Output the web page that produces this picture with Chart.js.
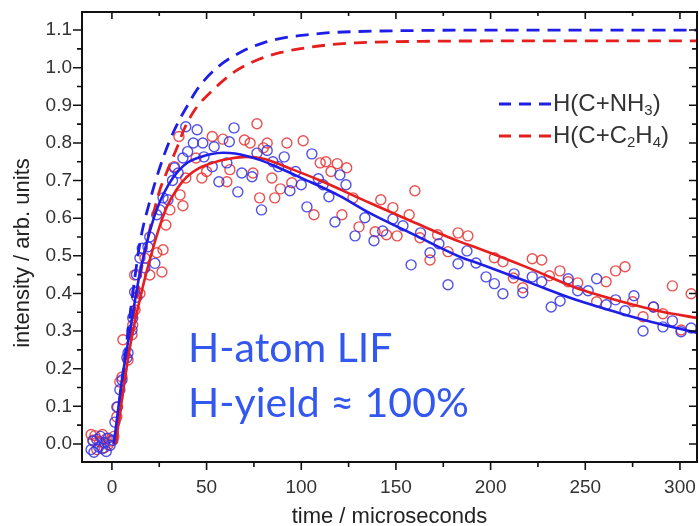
<!DOCTYPE html>
<html>
<head>
<meta charset="utf-8">
<script src="https://cdn.jsdelivr.net/npm/chart.js@4/dist/chart.umd.min.js"></script>
<style>
  html, body { margin: 0; padding: 0; background: #fff; }
  #wrap { width: 699px; height: 526px; }
</style>
</head>
<body>
<div id="wrap"><canvas id="c" width="699" height="526"></canvas></div>
<script>
// Axis ticks
const xMajorTicks = [0, 50, 100, 150, 200, 250, 300];
const xMinorTicks = [25, 75, 125, 175, 225, 275];
const yMajorTicks = [0.0, 0.1, 0.2, 0.3, 0.4, 0.5, 0.6, 0.7, 0.8, 0.9, 1.0, 1.1];
const yMinorTicks = [0.05, 0.15, 0.25, 0.35, 0.45, 0.55, 0.65, 0.75, 0.85, 0.95, 1.05];

// Measured LIF signal, [time (µs), intensity]
const nh3Points = [
  [-11,-0.015],[-10,0.008],[-9.5,-0.022],[-8,0.012],[-7,-0.008],[-6,0.02],[-5,-0.012],[-4,0.004],
  [-3,-0.02],[-2,0.015],[-1,-0.004],[0.5,0.01],
  [1.6,0.058],[2.6,0.098],[4.2,0.144],[5.3,0.17],[7.9,0.229],[8.5,0.242],[10.6,0.303],[11,0.335],
  [12,0.404],[13,0.45],[13.2,0.39],[14.8,0.494],[16,0.52],[17.4,0.468],[19,0.524],[20,0.55],
  [22.7,0.48],[23.7,0.609],[25.4,0.622],[27,0.654],[29.6,0.649],[32,0.70],[33,0.734],[35,0.72],
  [37.5,0.76],[39,0.843],[40,0.777],[43,0.80],[45,0.835],[48,0.80],[48.6,0.763],[53,0.737],
  [54,0.79],[56.5,0.697],[60.7,0.747],[62,0.803],[64.5,0.84],[66.5,0.67],[68.6,0.72],[74,0.71],
  [76.6,0.773],[79,0.622],[82,0.78],[85,0.75],[88,0.737],[91,0.763],[94,0.673],[97,0.724],
  [100,0.689],[103,0.63],[105.6,0.771],[109,0.705],[111.5,0.689],[114.6,0.657],[117.8,0.59],
  [120.4,0.715],[123.6,0.689],[128.4,0.553],[133.6,0.601],[138.4,0.54],[143,0.566],[148.4,0.598],
  [153.7,0.58],[158,0.476],[163,0.561],[168,0.508],[172.7,0.532],[177.5,0.423],[182.8,0.479],
  [187.5,0.513],[192.3,0.481],[197.6,0.444],[202,0.426],[206.5,0.399],[212.4,0.452],[217,0.402],
  [222,0.444],[227,0.431],[232,0.364],[236.7,0.38],[241,0.439],[246,0.407],[251.5,0.407],
  [256,0.439],[261,0.37],[266,0.383],[271,0.354],[275.7,0.394],[280.5,0.30],[286,0.364],
  [291,0.311],[296,0.327],[300.6,0.298],[305.9,0.308]
];
const c2h4Points = [
  [-11,0.025],[-10,0.01],[-9,0.022],[-8,-0.015],[-6.5,0.006],[-5,0.025],[-4,-0.01],[-3,0.014],
  [-2,-0.002],[-0.5,0.008],[1,0.02],
  [2.6,0.072],[3,0.098],[4.2,0.165],[5.3,0.178],[5.8,0.277],[8.5,0.223],[10.6,0.29],[11,0.316],
  [12,0.449],[12.2,0.356],[13.2,0.404],[14.8,0.40],[17.4,0.494],[20,0.449],[23.7,0.508],
  [26.4,0.457],[27,0.516],[28.5,0.582],[30.6,0.622],[33,0.737],[35.4,0.817],[36,0.662],
  [37.5,0.633],[39,0.707],[44.4,0.76],[47.5,0.707],[50,0.724],[53,0.817],[58.6,0.81],
  [60.7,0.697],[62.3,0.729],[70,0.808],[73,0.80],[74.5,0.72],[76.6,0.851],[78,0.654],[80,0.787],
  [82,0.80],[84.5,0.707],[86,0.654],[89,0.678],[92.4,0.80],[95,0.694],[101,0.806],[106.7,0.609],
  [110,0.747],[113,0.75],[115.7,0.724],[119,0.745],[121.5,0.609],[124,0.734],[127.3,0.654],
  [130.5,0.577],[139,0.564],[142,0.649],[145,0.556],[148.4,0.628],[150.6,0.553],[157,0.609],
  [160,0.673],[162.7,0.548],[168,0.489],[172,0.556],[177.5,0.511],[182.8,0.561],[188,0.553],
  [202,0.495],[206.5,0.484],[212,0.441],[217,0.415],[222,0.492],[227,0.489],[231,0.447],
  [236.6,0.46],[241,0.431],[246,0.428],[256,0.378],[261,0.431],[266,0.46],[271,0.471],
  [275,0.378],[280.5,0.338],[286,0.364],[291,0.346],[296,0.42],[300.6,0.303],[305.9,0.399]
];

// Kinetic fits (solid)
const nh3Fit = [
  [1,0],[3,0.08],[5,0.16],[10,0.315],[15,0.46],[20,0.565],[25,0.64],[30,0.69],[35,0.725],
  [40,0.748],[46.5,0.762],[52,0.77],[58.6,0.774],[65,0.772],[78,0.755],[90,0.73],[100,0.707],
  [120,0.66],[136,0.614],[160,0.555],[184,0.497],[193,0.481],[220,0.43],[245,0.383],[270,0.345],
  [290,0.318],[309,0.295]
];
const c2h4Fit = [
  [2,0],[5,0.11],[10,0.27],[15,0.39],[20,0.489],[25,0.575],[29,0.63],[34,0.675],[39.6,0.71],
  [46,0.733],[53,0.747],[62,0.758],[71,0.763],[80,0.758],[95.6,0.729],[110,0.70],[136,0.641],
  [160,0.588],[184,0.537],[193,0.521],[220,0.468],[245,0.415],[270,0.377],[290,0.352],[309,0.335]
];

// H-atom production without loss (dashed)
const nh3Yield = [
  [1.5,0],[5,0.15],[10,0.36],[15,0.54],[20,0.645],[25,0.73],[30,0.80],[35,0.855],[40,0.90],
  [45.4,0.945],[55.5,1.0],[68.7,1.043],[80,1.066],[91.4,1.08],[104.6,1.088],[115,1.093],
  [129,1.096],[164,1.099],[200,1.1],[309,1.1]
];
const c2h4Yield = [
  [2,0],[5,0.11],[10,0.29],[15,0.45],[20,0.57],[25,0.67],[30,0.735],[35,0.795],[38,0.835],
  [43.8,0.888],[53.4,0.941],[65,0.99],[77,1.021],[88.7,1.04],[103,1.053],[115,1.061],
  [129,1.066],[163,1.07],[200,1.071],[309,1.071]
];

// Legend labels; "_{..}" marks a subscript
const legendLabels = ['H(C+NH_{3})', 'H(C+C_{2}H_{4})'];
const noteLines = ['H-atom LIF', 'H-yield \u2248 100%'];
const yTitle = 'intensity / arb. units';
const xTitle = 'time / microseconds';

const BLUE = '#1e1ee6';
const RED = '#e61e1e';
const SANS = '"Liberation Sans", Arial, sans-serif';
const toXY = arr => arr.map(([x, y]) => ({ x, y }));

function drawRich(ctx, text, x, y, size) {
  const parts = text.split(/(_\{[^}]*\})/).filter(Boolean);
  let cx = x;
  parts.forEach(p => {
    if (p.startsWith('_{')) {
      const s = p.slice(2, -1);
      ctx.font = Math.round(size * 0.62) + 'px ' + SANS;
      ctx.fillText(s, cx, y + size * 0.28);
      cx += ctx.measureText(s).width;
    } else {
      ctx.font = size + 'px ' + SANS;
      ctx.fillText(p, cx, y);
      cx += ctx.measureText(p).width;
    }
  });
}

// keep the plot box fixed: no extra room for overhanging tick labels
function fixBox(size, key) {
  return s => {
    s[key] = size;
    s.paddingLeft = 0; s.paddingRight = 0; s.paddingTop = 0; s.paddingBottom = 0;
  };
}

const decor = {
  id: 'decor',
  afterDatasetsDraw(chart) {
    const { ctx, chartArea: a, scales: { x, y } } = chart;
    ctx.save();
    // frame
    ctx.strokeStyle = '#111';
    ctx.lineWidth = 2;
    ctx.strokeRect(a.left, a.top, a.right - a.left, a.bottom - a.top);
    // tick marks on all four sides
    ctx.lineWidth = 1.6;
    ctx.beginPath();
    yMajorTicks.forEach(v => {
      const p = y.getPixelForValue(v);
      ctx.moveTo(a.left - 9, p); ctx.lineTo(a.left, p);
      ctx.moveTo(a.right, p); ctx.lineTo(a.right - 8, p);
    });
    yMinorTicks.forEach(v => {
      const p = y.getPixelForValue(v);
      ctx.moveTo(a.left - 5, p); ctx.lineTo(a.left, p);
      ctx.moveTo(a.right, p); ctx.lineTo(a.right - 5, p);
    });
    xMajorTicks.forEach(v => {
      const p = x.getPixelForValue(v);
      ctx.moveTo(p, a.bottom); ctx.lineTo(p, a.bottom + 8);
      ctx.moveTo(p, a.top); ctx.lineTo(p, a.top + 7);
    });
    xMinorTicks.forEach(v => {
      const p = x.getPixelForValue(v);
      ctx.moveTo(p, a.bottom); ctx.lineTo(p, a.bottom + 5);
      ctx.moveTo(p, a.top); ctx.lineTo(p, a.top + 4);
    });
    ctx.stroke();

    // axis titles
    ctx.fillStyle = '#222';
    ctx.font = '22px ' + SANS;
    ctx.textAlign = 'center';
    ctx.textBaseline = 'alphabetic';
    ctx.fillText(xTitle, (a.left + a.right) / 2, 523);
    ctx.save();
    ctx.translate(29, 253);
    ctx.rotate(-Math.PI / 2);
    ctx.fillText(yTitle, 0, 0);
    ctx.restore();

    // legend
    const items = [
      { color: BLUE, text: legendLabels[0], yy: 104 },
      { color: RED, text: legendLabels[1], yy: 136 }
    ];
    items.forEach(it => {
      ctx.strokeStyle = it.color;
      ctx.lineWidth = 2.8;
      ctx.setLineDash([12, 8]);
      ctx.beginPath();
      ctx.moveTo(499, it.yy); ctx.lineTo(551, it.yy);
      ctx.stroke();
      ctx.setLineDash([]);
      ctx.fillStyle = '#333';
      ctx.textBaseline = 'middle';
      ctx.textAlign = 'left';
      drawRich(ctx, it.text, 553, it.yy, 24);
    });

    // annotation
    ctx.fillStyle = '#3358f0';
    ctx.textBaseline = 'alphabetic';
    ctx.textAlign = 'left';
    ctx.font = '41px Lato, "Open Sans", sans-serif';
    ctx.fillText(noteLines[0], 188, 362);
    ctx.fillText(noteLines[1], 188, 417);
    ctx.restore();
  }
};

new Chart(document.getElementById('c'), {
  data: {
    datasets: [
      { type: 'line', data: toXY(nh3Fit), borderColor: BLUE, borderWidth: 2.6, pointRadius: 0,
        cubicInterpolationMode: 'monotone', order: 0 },
      { type: 'line', data: toXY(c2h4Fit), borderColor: RED, borderWidth: 2.6, pointRadius: 0,
        cubicInterpolationMode: 'monotone', order: 1 },
      { type: 'line', data: toXY(nh3Yield), borderColor: BLUE, borderWidth: 2.8, borderDash: [13, 8],
        pointRadius: 0, cubicInterpolationMode: 'monotone', order: 2 },
      { type: 'line', data: toXY(c2h4Yield), borderColor: RED, borderWidth: 2.8, borderDash: [13, 8],
        pointRadius: 0, cubicInterpolationMode: 'monotone', order: 3 },
      { type: 'scatter', data: toXY(nh3Points), borderColor: 'rgba(50,50,230,0.85)',
        backgroundColor: 'rgba(0,0,0,0)', pointRadius: 5, borderWidth: 1.4, order: 4 },
      { type: 'scatter', data: toXY(c2h4Points), borderColor: 'rgba(230,50,50,0.85)',
        backgroundColor: 'rgba(0,0,0,0)', pointRadius: 5, borderWidth: 1.4, order: 5 }
    ]
  },
  options: {
    responsive: false,
    animation: false,
    devicePixelRatio: 1,
    layout: { autoPadding: false, padding: { top: 12, right: 2, left: 0, bottom: 0 } },
    plugins: { legend: { display: false }, tooltip: { enabled: false } },
    scales: {
      x: {
        type: 'linear', min: -15.8, max: 309,
        afterBuildTicks: s => { s.ticks = xMajorTicks.map(v => ({ value: v })); },
        afterFit: fixBox(64, 'height'),
        grid: { display: false, drawTicks: false },
        border: { display: false },
        ticks: { padding: 14, color: '#333', maxRotation: 0,
          font: { family: SANS, size: 19 } }
      },
      y: {
        type: 'linear', min: -0.048, max: 1.148,
        afterBuildTicks: s => { s.ticks = yMajorTicks.map(v => ({ value: v })); },
        afterFit: fixBox(82, 'width'),
        grid: { display: false, drawTicks: false },
        border: { display: false },
        ticks: { padding: 10, color: '#333', callback: v => v.toFixed(1),
          font: { family: SANS, size: 19 } }
      }
    }
  },
  plugins: [decor]
});
</script>
</body>
</html>
